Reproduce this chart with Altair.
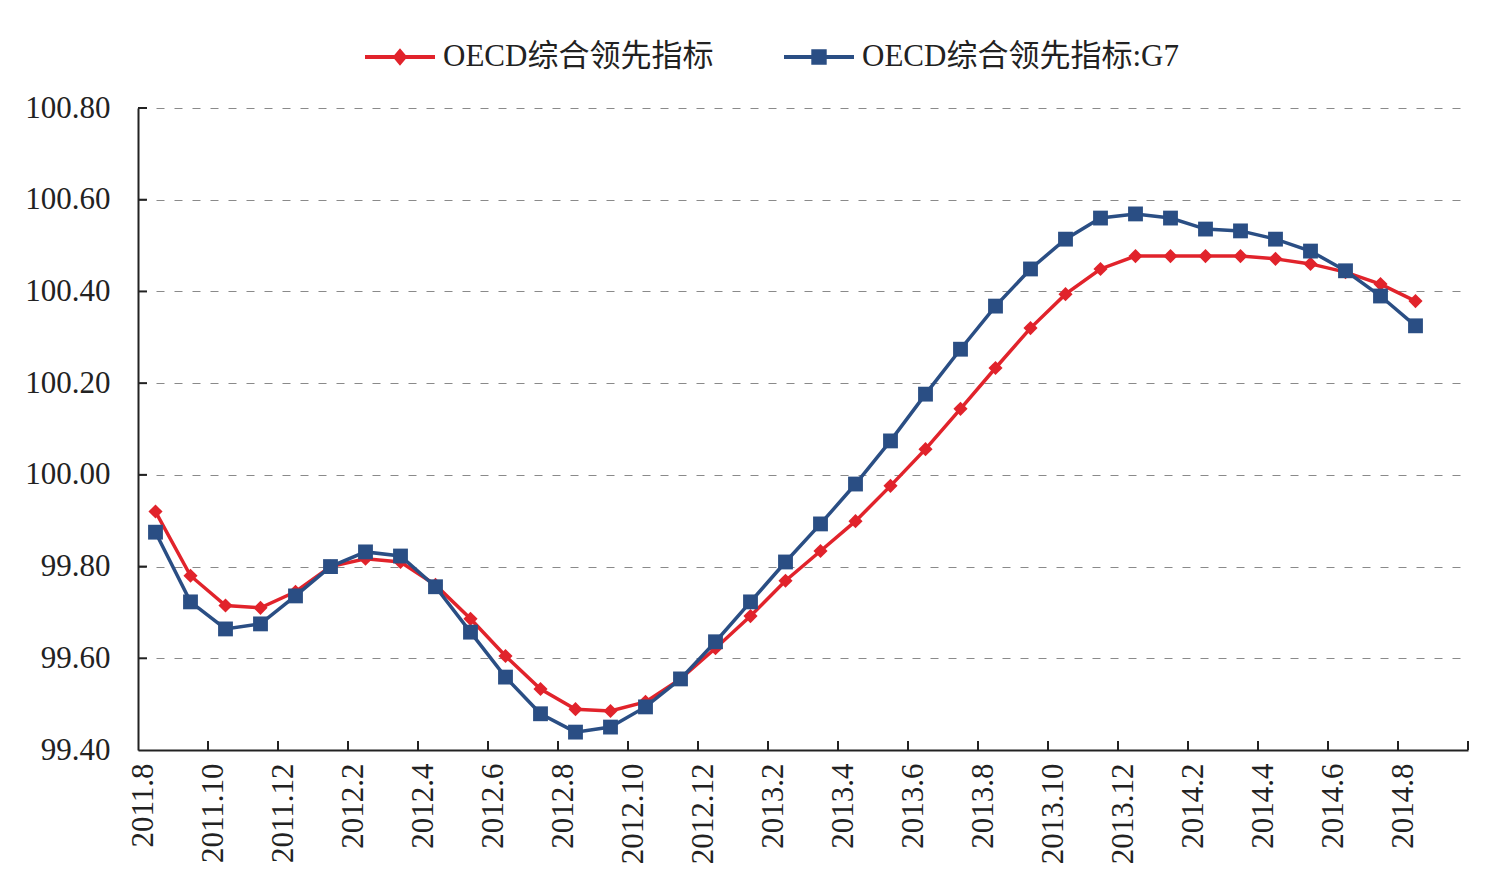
import altair as alt
import pandas as pd

months = ["2011.8", "2011.9", "2011.10", "2011.11", "2011.12",
          "2012.1", "2012.2", "2012.3", "2012.4", "2012.5", "2012.6", "2012.7",
          "2012.8", "2012.9", "2012.10", "2012.11", "2012.12",
          "2013.1", "2013.2", "2013.3", "2013.4", "2013.5", "2013.6", "2013.7",
          "2013.8", "2013.9", "2013.10", "2013.11", "2013.12",
          "2014.1", "2014.2", "2014.3", "2014.4", "2014.5", "2014.6", "2014.7", "2014.8"]

oecd = [99.92, 99.78, 99.715, 99.71, 99.745, 99.80, 99.817, 99.81, 99.76, 99.686,
        99.605, 99.533, 99.489, 99.485, 99.505, 99.555, 99.622, 99.692, 99.769,
        99.834, 99.899, 99.976, 100.056, 100.144, 100.233, 100.32, 100.394,
        100.449, 100.477, 100.477, 100.477, 100.477, 100.471, 100.46, 100.442,
        100.416, 100.379]

g7 = [99.875, 99.723, 99.664, 99.675, 99.736, 99.80, 99.832, 99.823, 99.756, 99.657,
      99.559, 99.479, 99.439, 99.45, 99.494, 99.555, 99.636, 99.723, 99.81,
      99.893, 99.98, 100.074, 100.176, 100.274, 100.368, 100.449, 100.514,
      100.56, 100.569, 100.56, 100.536, 100.532, 100.514, 100.488, 100.445,
      100.39, 100.325]

series_names = ["OECD综合领先指标", "OECD综合领先指标:G7"]
colors = ["#E1232B", "#2A4E84"]
y_ticks = [99.4, 99.6, 99.8, 100.0, 100.2, 100.4, 100.6, 100.8]
x_ticks = list(range(0, 39, 2))

rows = []
for i, m in enumerate(months):
    rows.append({"month": m, "pos": i + 0.5, "value": oecd[i], "series": series_names[0]})
    rows.append({"month": m, "pos": i + 0.5, "value": g7[i], "series": series_names[1]})
df = pd.DataFrame(rows)

W, H = 1330, 642
FONT = "Liberation Serif, Times New Roman, Noto Sans CJK SC"

label_arr = "[" + ",".join("'" + m + "'" for m in months) + "]"
label_expr = f"datum.value < {len(months)} ? {label_arr}[datum.value] : ''"

x_enc = alt.X("pos:Q",
              scale=alt.Scale(domain=[0, 38], nice=False, zero=False),
              axis=alt.Axis(values=x_ticks, labelExpr=label_expr, title=None,
                            labelAngle=270, labelFont=FONT, labelFontSize=31,
                            labelColor="#222", labelPadding=13, labelOffset=5,
                            ticks=False, grid=False, domainColor="#222",
                            domainWidth=2, labelOverlap=False))
y_enc = alt.Y("value:Q",
              scale=alt.Scale(domain=[99.4, 100.8], nice=False, zero=False),
              axis=alt.Axis(values=y_ticks, format=".2f", title=None,
                            labelFont=FONT, labelFontSize=31, labelColor="#222",
                            labelPadding=28, ticks=False, grid=True,
                            gridColor="#8a8a8a", gridDash=[8, 10], gridWidth=1.2,
                            domainColor="#222", domainWidth=2))

base = alt.Chart(df)

layers = []
for name, col, shp, sz in [(series_names[0], colors[0], "diamond", 200),
                           (series_names[1], colors[1], "square", 220)]:
    sub = base.transform_filter(alt.datum.series == name)
    layers.append(sub.mark_line(color=col, strokeWidth=3.5).encode(x=x_enc, y=y_enc))
    layers.append(sub.mark_point(filled=True, color=col, shape=shp, size=sz, opacity=1)
                  .encode(x=x_enc, y=y_enc))

# inside tick marks
xt_df = pd.DataFrame({"pos": x_ticks[1:]})
ytick_df = pd.DataFrame({"value": y_ticks[1:]})
xticks_layer = alt.Chart(xt_df).mark_rule(color="#222", strokeWidth=2).encode(
    x=alt.X("pos:Q", scale=alt.Scale(domain=[0, 38], nice=False, zero=False)),
    y=alt.value(H), y2=alt.value(H - 9))
yticks_layer = alt.Chart(ytick_df).mark_rule(color="#222", strokeWidth=2).encode(
    y=alt.Y("value:Q", scale=alt.Scale(domain=[99.4, 100.8], nice=False, zero=False)),
    x=alt.value(0), x2=alt.value(9))

diamond_path = "M-1,-0.055L1,-0.055L1,0.055L-1,0.055Z M0,-0.25L0.21,0L0,0.25L-0.21,0Z"
square_path = "M-1,-0.055L1,-0.055L1,0.055L-1,0.055Z M-0.22,-0.22L0.22,-0.22L0.22,0.22L-0.22,0.22Z"

legend = alt.Legend(orient="none", legendX=227, legendY=-86, direction="horizontal",
                    title=None, symbolSize=4900, symbolStrokeWidth=0,
                    labelFont=FONT, labelFontSize=31, labelColor="#222",
                    labelOffset=8, columnPadding=70, labelLimit=0)

legend_layer = base.transform_filter("false").mark_point(filled=True, opacity=1).encode(
    x=x_enc, y=y_enc,
    color=alt.Color("series:N", scale=alt.Scale(domain=series_names, range=colors),
                    legend=legend),
    shape=alt.Shape("series:N", scale=alt.Scale(domain=series_names,
                                                range=[diamond_path, square_path]),
                    legend=legend))

chart = alt.layer(*layers, xticks_layer, yticks_layer, legend_layer).properties(
    width=W, height=H,
    autosize=alt.AutoSizeParams(type="none"),
    padding={"left": 138, "top": 108, "right": 31, "bottom": 134},
    background="white",
).configure_view(stroke=None)

chart.save("out.html", embed_options={"renderer": "svg", "actions": False})
